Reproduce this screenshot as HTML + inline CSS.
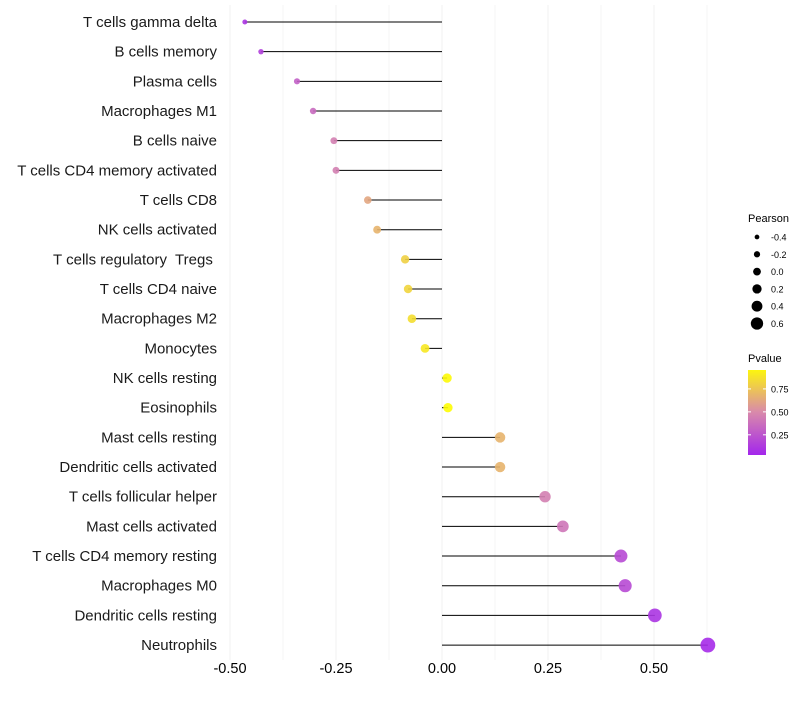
<!DOCTYPE html>
<html><head><meta charset="utf-8"><style>
body{margin:0;background:#fff;font-family:"Liberation Sans",sans-serif}
text{white-space:pre}
</style></head><body>
<svg id="c" width="800" height="700" xmlns="http://www.w3.org/2000/svg" font-family="Liberation Sans, sans-serif"></svg>
<script>
const categories=["T cells gamma delta","B cells memory","Plasma cells","Macrophages M1","B cells naive","T cells CD4 memory activated","T cells CD8","NK cells activated","T cells regulatory  Tregs ","T cells CD4 naive","Macrophages M2","Monocytes","NK cells resting","Eosinophils","Mast cells resting","Dendritic cells activated","T cells follicular helper","Mast cells activated","T cells CD4 memory resting","Macrophages M0","Dendritic cells resting","Neutrophils"];
const pearson=[-0.465,-0.427,-0.342,-0.304,-0.255,-0.25,-0.175,-0.153,-0.087,-0.08,-0.071,-0.04,0.012,0.014,0.137,0.137,0.243,0.285,0.422,0.432,0.502,0.627];
const pvalue=[0.1,0.15,0.3,0.35,0.45,0.45,0.62,0.68,0.8,0.82,0.86,0.9,0.98,0.99,0.68,0.68,0.45,0.4,0.2,0.2,0.1,0.05];
const xTicks=[-0.5,-0.25,0,0.25,0.5];
const xTickLabels=["-0.50","-0.25","0.00","0.25","0.50"];
const sizeLegend=[-0.4,-0.2,0.0,0.2,0.4,0.6];
const sizeLegendLabels=["-0.4","-0.2","0.0","0.2","0.4","0.6"];
const pTicks=[0.25,0.5,0.75];
const pTickLabels=["0.25","0.50","0.75"];
const svg=document.getElementById('c');const NS="http://www.w3.org/2000/svg";
function mk(t,a,p){const e=document.createElementNS(NS,t);for(const k in a)e.setAttribute(k,a[k]);(p||svg).appendChild(e);return e;}
const xs=v=>442+v*424;
const ys=i=>22+i*29.67;
const rs=p=>4.6+4.5*p;
function lerp(a,b,t){return a.map((v,i)=>Math.round(v+(b[i]-v)*t));}
const stops=[[0,[160,32,240]],[0.5,[217,138,170]],[1,[255,255,0]]];
function col(p){for(let i=0;i<stops.length-1;i++){if(p<=stops[i+1][0]){const t=(p-stops[i][0])/(stops[i+1][0]-stops[i][0]);const c=lerp(stops[i][1],stops[i+1][1],Math.max(0,t));return `rgb(${c})`;}}return 'rgb(255,255,0)';}
for(let v=-0.5;v<=0.625+1e-9;v+=0.125){const g=mk('line',{x1:xs(v),x2:xs(v),y1:5,y2:660,stroke:'#f0f0f0','stroke-width':Math.abs(v*4-Math.round(v*4))<1e-6?1:0.6});

}
xTicks.forEach((v,i)=>{const t=mk('text',{x:xs(v),y:673,'text-anchor':'middle','font-size':14.5,fill:'#000'});t.textContent=xTickLabels[i];

});
categories.forEach((c,i)=>{const y=ys(i);
const t=mk('text',{x:217,y:y+5,'text-anchor':'end','font-size':15,fill:'#1a1a1a'});t.textContent=c;


const l=mk('line',{x1:xs(0),x2:xs(pearson[i]),y1:y,y2:y,stroke:'#000','stroke-width':1});


const d=mk('circle',{cx:xs(pearson[i]),cy:y,r:rs(pearson[i]),fill:col(pvalue[i]),'fill-opacity':0.9});

});
let t=mk('text',{x:748,y:222,'font-size':11});t.textContent='Pearson';


sizeLegend.forEach((v,i)=>{const y=237+i*17.3;const c=mk('circle',{cx:757,cy:y,r:(4.1+4*v)*0.95,fill:'#000'});


const tt=mk('text',{x:771,y:y+3.5,'font-size':9});tt.textContent=sizeLegendLabels[i];

});
t=mk('text',{x:748,y:362,'font-size':11});t.textContent='Pvalue';


const defs=mk('defs',{});const lg=mk('linearGradient',{id:'g',x1:0,y1:1,x2:0,y2:0},defs);
[[0,0.03],[0.5,0.5],[1,0.956]].forEach(([o,p])=>mk('stop',{offset:(p-0.03)/(0.926),'stop-color':col(p)},lg));
const bar=mk('rect',{x:748,y:370,width:18,height:85,fill:'url(#g)'});


const py=p=>455-(p-0.03)/0.926*85;
pTicks.forEach((p,i)=>{mk('line',{x1:748,x2:751,y1:py(p),y2:py(p),stroke:'#fff'});mk('line',{x1:763,x2:766,y1:py(p),y2:py(p),stroke:'#fff'});
const tt=mk('text',{x:771,y:py(p)+3.5,'font-size':9});tt.textContent=pTickLabels[i];

});
</script>
</body></html>
